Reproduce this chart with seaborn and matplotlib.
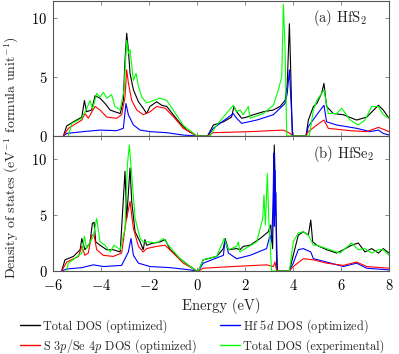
import matplotlib
matplotlib.use("Agg")
import matplotlib.pyplot as plt
from matplotlib.lines import Line2D
import seaborn as sns
import pandas as pd

# ---------------- data: (a) HfS2 ----------------
a_tot_E = [-5.57, -5.43, -5.15, -4.8, -4.69, -4.6, -4.39, -4.25, -4.04, -3.83,
           -3.62, -3.42, -3.2, -3.07, -3.0, -2.93, -2.86, -2.79, -2.65, -2.44,
           -2.24, -2.1, -1.96, -1.68, -1.47, -1.26, -0.99, -0.71, -0.43, 0.0,
           0.44, 0.68, 1.1, 1.44, 1.54, 1.65, 1.86, 2.07, 2.35, 2.76,
           3.18, 3.46, 3.67, 3.76, 3.85, 3.9, 3.97,
           4.54, 4.64, 4.85, 4.99, 5.19, 5.29, 5.4, 5.68, 6.1, 6.65,
           7.07, 7.56, 7.76, 8.0]
a_tot_D = [0, 0.85, 1.2, 1.6, 3.0, 2.05, 2.2, 3.4, 3.2, 2.75,
           2.2, 2.05, 1.9, 3.0, 6.4, 8.7, 7.3, 5.3, 3.9, 2.9,
           2.35, 1.9, 2.5, 2.9, 2.6, 2.5, 1.8, 1.1, 0.5, 0,
           0, 0.93, 1.2, 1.6, 2.5, 2.05, 1.5, 1.6, 1.8, 2.05,
           2.2, 2.5, 3.0, 4.4, 9.5, 5.9, 0,
           0, 1.35, 2.5, 2.75, 3.6, 4.45, 2.5, 1.9, 1.8, 1.35,
           1.6, 2.6, 2.2, 1.5]

a_hf_E = [-5.57, -5.43, -4.74, -4.04, -3.35, -3.07, -2.96, -2.86, -2.65, -2.37,
          -1.96, -1.26, -0.57, 0.0,
          0.44, 0.68, 1.51, 1.65, 1.86, 2.49, 3.18, 3.67, 3.76, 3.85, 3.9, 3.99,
          4.54, 4.64, 4.99, 5.29, 5.4, 5.82, 6.65, 7.21, 7.56, 7.76, 8.0]
a_hf_D = [0, 0.22, 0.37, 0.5, 0.45, 0.65, 2.75, 1.8, 0.93, 0.5,
          0.37, 0.28, 0.08, 0,
          0, 0.65, 1.9, 1.5, 1.07, 1.35, 1.8, 2.75, 3.6, 5.6, 3.6, 0,
          0, 0.8, 1.8, 2.6, 1.2, 0.93, 0.65, 0.37, 0.5, 0.22, 0.08]

a_p_E = [-5.57, -5.36, -4.8, -4.67, -4.53, -4.25, -4.04, -3.76, -3.35, -3.14,
         -3.0, -2.93, -2.86, -2.72, -2.51, -2.24, -1.96, -1.68, -1.33, -0.99,
         -0.57, 0.0,
         0.44, 0.68, 2.21, 3.6, 3.88, 3.99,
         4.54, 4.64, 4.99, 5.29, 5.47, 6.38, 7.07, 7.56, 8.0]
a_p_D = [0, 0.65, 1.35, 1.9, 1.5, 2.5, 2.2, 1.6, 1.5, 1.8,
         3.3, 5.6, 4.5, 3.0, 2.2, 1.8, 2.05, 2.5, 2.35, 1.65,
         0.65, 0,
         0, 0.28, 0.37, 0.5, 0.22, 0,
         0, 0.37, 0.93, 1.35, 0.65, 0.45, 0.37, 0.73, 0.37]

a_exp_E = [-5.36, -5.22, -4.8, -4.6, -4.46, -4.35, -4.18, -4.04, -3.9, -3.76,
           -3.56, -3.42, -3.2, -3.04, -2.93, -2.86, -2.79, -2.65, -2.54, -2.44,
           -2.3, -2.1, -1.82, -1.54, -1.26, -0.99, -0.57, 0.0,
           0.54, 0.82, 1.51, 1.65, 1.79, 1.93, 2.14, 2.21, 2.76, 3.18,
           3.39, 3.53, 3.6, 3.67, 3.74,
           4.68, 4.85, 4.99, 5.29, 5.47, 5.82, 6.03, 6.38, 6.72, 7.0,
           7.28, 7.56, 7.76, 8.0]
a_exp_D = [0, 1.05, 1.5, 2.3, 3.0, 2.3, 3.6, 3.3, 3.7, 3.2,
           3.5, 2.5, 2.2, 3.9, 8.1, 7.0, 7.3, 4.7, 5.3, 4.2,
           3.3, 2.8, 3.0, 3.2, 3.0, 2.2, 0.9, 0,
           0, 0.93, 2.6, 2.05, 2.2, 1.8, 2.5, 1.5, 1.9, 2.6,
           3.9, 5.0, 11.15, 7.3, 0,
           0, 2.2, 3.0, 3.9, 1.9, 1.9, 2.35, 1.35, 0.93, 1.35,
           2.5, 2.5, 1.8, 1.5]

# ---------------- data: (b) HfSe2 ----------------
b_tot_E = [-5.64, -5.5, -5.15, -4.87, -4.8, -4.67, -4.46, -4.36, -4.29, -4.22,
           -4.04, -3.76, -3.49, -3.2, -3.0, -2.93, -2.79, -2.72, -2.58, -2.37,
           -2.24, -2.17, -2.1, -1.82, -1.54, -1.33, -1.12, -0.71, -0.29, 0.0,
           0.06, 0.26, 0.82, 1.1, 1.17, 1.31, 1.65, 1.79, 1.93, 2.21,
           2.63, 2.97, 3.07, 3.15, 3.22, 3.28, 3.35,
           3.85, 4.01, 4.22, 4.43, 4.64, 4.74, 4.82, 4.99, 5.4, 5.82,
           6.1, 6.44, 6.72, 7.0, 7.28, 7.56, 7.76, 8.0]
b_tot_D = [0, 1.0, 1.3, 1.9, 2.9, 1.9, 2.5, 4.25, 4.35, 2.6,
           2.3, 1.9, 1.9, 1.7, 8.9, 4.7, 9.2, 6.2, 3.5, 2.6,
           1.9, 2.8, 2.3, 2.5, 2.6, 2.8, 1.9, 1.1, 0.4, 0,
           0, 1.0, 1.3, 2.0, 2.9, 1.9, 2.0, 1.9, 2.2, 2.3,
           2.9, 3.5, 4.1, 2.0, 11.25, 6.2, 0,
           0, 1.4, 3.2, 3.5, 3.2, 4.55, 2.6, 2.3, 1.9, 1.6,
           1.9, 2.3, 2.5, 1.7, 2.0, 1.6, 2.0, 1.6]

b_hf_E = [-5.64, -5.43, -4.8, -4.32, -3.9, -3.14, -2.86, -2.75, -2.65, -2.44,
          -1.96, -1.12, -0.29, 0.0,
          0.06, 0.26, 1.1, 1.17, 1.31, 1.65, 2.21, 2.9, 3.04, 3.11,
          3.17, 3.2, 3.22, 3.24, 3.26, 3.28, 3.32,
          3.85, 4.01, 4.22, 4.43, 4.74, 4.85, 5.4, 6.1, 6.65, 7.07, 8.0]
b_hf_D = [0, 0.18, 0.3, 0.55, 0.4, 0.5, 1.7, 2.9, 1.4, 0.7,
          0.4, 0.3, 0.1, 0,
          0, 0.7, 1.4, 2.8, 1.6, 1.1, 1.4, 2.0, 3.2, 2.6,
          6.0, 10.5, 4.0, 9.0, 5.0, 7.0, 0,
          0, 0.7, 1.9, 2.0, 1.7, 1.1, 0.8, 0.4, 0.7, 0.25, 0.1]

b_p_E = [-5.64, -5.43, -4.94, -4.8, -4.67, -4.53, -4.39, -4.29, -4.18, -3.9,
         -3.49, -3.14, -2.96, -2.79, -2.65, -2.44, -2.24, -2.1, -1.68, -1.33,
         -0.99, -0.57, 0.0,
         0.06, 0.26, 1.51, 2.9, 3.18, 3.25, 3.32,
         3.85, 4.01, 4.43, 4.85, 5.4, 6.1, 6.65, 7.07, 8.0]
b_p_D = [0, 0.8, 1.3, 2.2, 1.4, 1.6, 3.2, 3.2, 1.9, 1.4,
         1.3, 1.6, 4.4, 6.2, 3.8, 2.2, 1.7, 2.0, 2.2, 2.3,
         1.6, 0.7, 0,
         0, 0.25, 0.4, 0.55, 0.4, 0.8, 0,
         0, 0.4, 1.1, 1.0, 0.7, 0.5, 0.8, 0.4, 0.25]

b_exp_E = [-5.43, -5.36, -4.8, -4.69, -4.6, -4.32, -4.18, -4.04, -3.83, -3.62,
           -3.46, -3.2, -3.0, -2.9, -2.82, -2.72, -2.58, -2.37, -2.24, -2.03,
           -1.68, -1.4, -1.19, -0.71, -0.29, 0.0,
           0.06, 0.26, 0.82, 1.13, 1.31, 1.65, 1.72, 1.79, 1.93, 2.49,
           2.74, 2.79, 2.85, 2.93, 2.99, 3.11,
           3.85, 4.01, 4.22, 4.43, 4.64, 4.85, 4.99, 5.4, 5.96, 6.44,
           6.72, 7.0, 7.28, 7.56, 7.76, 8.0]
b_exp_D = [0, 0.7, 1.6, 3.1, 2.0, 3.1, 4.7, 2.6, 2.3, 1.7,
           2.3, 1.9, 3.8, 9.5, 11.25, 8.6, 4.7, 2.9, 2.6, 2.6,
           2.5, 2.9, 2.3, 1.1, 0.4, 0,
           0, 1.0, 1.3, 2.9, 1.9, 2.2, 2.6, 1.7, 1.9, 2.6,
           4.7, 6.8, 4.1, 8.7, 4.7, 0,
           0, 2.6, 3.4, 3.5, 3.2, 2.3, 2.3, 2.0, 1.6, 2.5,
           1.9, 2.0, 1.6, 1.9, 1.9, 1.4]

series_names = ["Total DOS (optimized)", "Hf 5$d$ DOS (optimized)",
                "S 3$p$/Se 4$p$ DOS (optimized)", "Total DOS (experimental)"]
series_colors = ["#000000", "#0000ff", "#ff0000", "#00ff00"]
panel_labels = ["(a) HfS$_2$", "(b) HfSe$_2$"]
x_ticks = [-6, -4, -2, 0, 2, 4, 6, 8]
x_tick_labels = ["$-6$", "$-4$", "$-2$", "$0$", "$2$", "$4$", "$6$", "$8$"]
y_ticks = [0, 5, 10]

# ---------------- style ----------------
sns.set_style("ticks")
plt.rcParams.update({
    "font.family": ["cmr10", "DejaVu Serif"],
    "mathtext.fontset": "cm",
    "axes.formatter.use_mathtext": True,
    "axes.unicode_minus": True,
    "font.size": 10,
    "axes.edgecolor": "#555555",
    "axes.linewidth": 0.8,
    "xtick.color": "#777777",
    "ytick.color": "#777777",
    "xtick.labelcolor": "black",
    "ytick.labelcolor": "black",
    "xtick.direction": "in",
    "ytick.direction": "in",
})

W, H = 399, 354
fig = plt.figure(figsize=(W / 100, H / 100), dpi=100)
left, right = 53 / W, 389 / W
axA = fig.add_axes([left, 1 - 136 / H, right - left, 136 / H - 0.002])
axB = fig.add_axes([left, 1 - 271 / H, right - left, 135 / H])

palette = dict(zip(series_names, series_colors))


def make_df(pairs):
    frames = []
    for name, (E, D) in zip(series_names, pairs):
        frames.append(pd.DataFrame({"E": E, "D": D, "series": name}))
    return pd.concat(frames, ignore_index=True)


dfA = make_df([(a_tot_E, a_tot_D), (a_hf_E, a_hf_D), (a_p_E, a_p_D), (a_exp_E, a_exp_D)])
dfB = make_df([(b_tot_E, b_tot_D), (b_hf_E, b_hf_D), (b_p_E, b_p_D), (b_exp_E, b_exp_D)])

for ax, df, lab, ymax in [(axA, dfA, panel_labels[0], 11.45), (axB, dfB, panel_labels[1], 12.05)]:
    sns.lineplot(data=df, x="E", y="D", hue="series", hue_order=series_names,
                 palette=palette, sort=False, estimator=None, linewidth=0.8,
                 legend=False, ax=ax)
    ax.set_xlim(-6, 8)
    ax.set_ylim(0, ymax)
    ax.set_xticks(x_ticks)
    ax.set_yticks(y_ticks)
    ax.tick_params(axis="both", which="both", top=True, right=True,
                   length=3, width=0.6, labelsize=10.5)
    ax.tick_params(axis="y", pad=4)
    ax.set_xlabel("")
    ax.set_ylabel("")
    ax.text(0.774, 0.87, lab, transform=ax.transAxes, fontsize=10.5,
            ha="left", va="center")

axA.tick_params(axis="x", labelbottom=False)
axB.tick_params(axis="x", pad=5)
axB.set_xticklabels(x_tick_labels)
axB.set_xlabel("Energy (eV)", fontsize=10.5, labelpad=4)

fig.text(12 / W, 1 - 158 / H, "Density of states (eV$^{-1}$ formula unit$^{-1}$)",
         rotation=90, ha="center", va="center", fontsize=10)

order = [0, 2, 1, 3]
handles = [Line2D([], [], color=series_colors[i], lw=1.0) for i in order]
labels = [series_names[i] for i in order]
fig.legend(handles, labels, ncol=2, frameon=False, fontsize=8.8,
           loc="upper left", bbox_to_anchor=(20 / W, 1 - 317 / H),
           handlelength=1.64, handletextpad=0.25, columnspacing=1.9,
           labelspacing=0.35, borderaxespad=0, borderpad=0)

fig.savefig("out.png", dpi=100)
